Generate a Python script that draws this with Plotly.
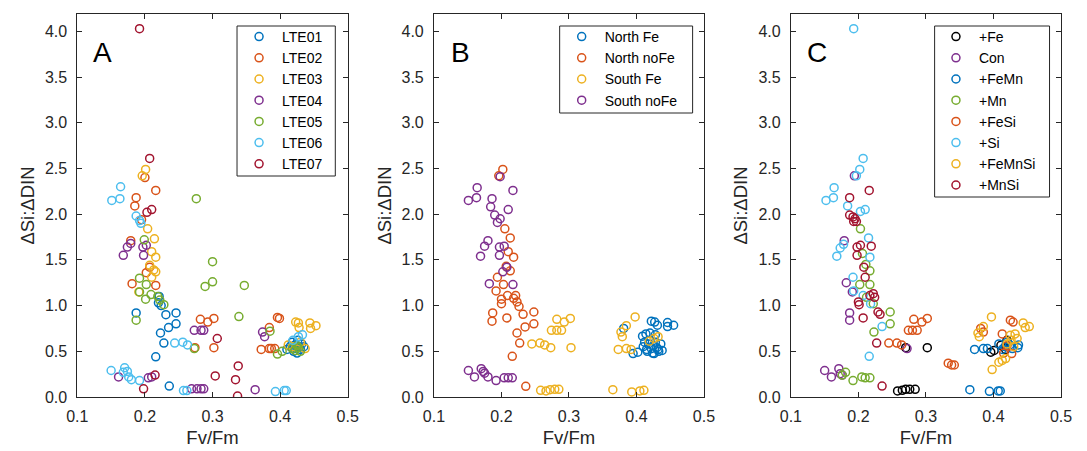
import plotly.graph_objects as go

# ---------------- Panel A : by lake station ----------------
a_names = ["LTE01", "LTE02", "LTE03", "LTE04", "LTE05", "LTE06", "LTE07"]
a_colors = ["#0072BD", "#D95319", "#EDB120", "#7E2F8E", "#77AC30", "#4DBEEE", "#A2142F"]

a_lte01_x = [0.221, 0.220, 0.224, 0.187, 0.231, 0.246, 0.235, 0.246, 0.223, 0.228, 0.216, 0.236,
             0.410, 0.415, 0.418, 0.420, 0.422, 0.425, 0.428, 0.430, 0.432, 0.435, 0.420, 0.426]
a_lte01_y = [1.10, 1.03, 1.00, 0.92, 0.90, 0.92, 0.76, 0.80, 0.70, 0.59, 0.44, 0.12,
             0.52, 0.55, 0.60, 0.50, 0.57, 0.48, 0.55, 0.52, 0.58, 0.55, 0.53, 0.62]
a_lte02_x = [0.216, 0.187, 0.185, 0.179, 0.202, 0.207, 0.181, 0.216, 0.282, 0.302, 0.293, 0.274,
             0.302, 0.372, 0.384, 0.392, 0.384, 0.396, 0.399, 0.387, 0.195, 0.200]
a_lte02_y = [2.26, 2.18, 2.09, 1.71, 1.36, 1.42, 1.24, 1.22, 0.85, 0.86, 0.82, 0.54,
             0.54, 0.52, 0.53, 0.53, 0.76, 0.87, 0.86, 0.53, 1.94, 2.40]
a_lte03_x = [0.201, 0.196, 0.204, 0.214, 0.210, 0.216, 0.207, 0.213, 0.216, 0.210, 0.191,
             0.423, 0.427, 0.428, 0.444, 0.453, 0.445, 0.412, 0.437, 0.418, 0.430]
a_lte03_y = [2.49, 2.42, 1.84, 1.73, 1.59, 1.53, 1.44, 1.39, 1.37, 1.31, 1.15,
             0.82, 0.81, 0.76, 0.81, 0.78, 0.75, 0.57, 0.53, 0.55, 0.60]
a_lte04_x = [0.179, 0.174, 0.168, 0.197, 0.202, 0.198, 0.273, 0.283, 0.287, 0.374, 0.377,
             0.161, 0.205, 0.210, 0.269, 0.277, 0.283, 0.287, 0.363]
a_lte04_y = [1.68, 1.64, 1.55, 1.64, 1.66, 1.55, 0.73, 0.73, 0.73, 0.71, 0.66,
             0.22, 0.21, 0.22, 0.09, 0.09, 0.09, 0.09, 0.08]
a_lte05_x = [0.276, 0.300, 0.300, 0.289, 0.347, 0.199, 0.192, 0.202, 0.192, 0.201, 0.209, 0.219,
             0.222, 0.228, 0.187, 0.339, 0.273, 0.385, 0.396, 0.403, 0.422, 0.427, 0.418, 0.430, 0.425]
a_lte05_y = [2.17, 1.48, 1.26, 1.21, 1.22, 1.72, 1.30, 1.23, 1.15, 1.07, 1.12, 1.10,
             1.06, 1.01, 0.84, 0.88, 0.53, 0.72, 0.47, 0.50, 0.51, 0.54, 0.53, 0.50, 0.56]
a_lte06_x = [0.164, 0.151, 0.163, 0.187, 0.192, 0.194, 0.244, 0.256, 0.263, 0.150, 0.170, 0.174,
             0.176, 0.180, 0.192, 0.168, 0.257, 0.262, 0.393, 0.406, 0.409, 0.419, 0.427, 0.433]
a_lte06_y = [2.30, 2.15, 2.17, 1.98, 1.93, 1.90, 0.59, 0.60, 0.57, 0.29, 0.32, 0.28,
             0.22, 0.19, 0.18, 0.27, 0.07, 0.07, 0.06, 0.07, 0.07, 0.62, 0.66, 0.68]
a_lte07_x = [0.192, 0.207, 0.203, 0.210, 0.215, 0.198, 0.307, 0.304, 0.338, 0.334, 0.337]
a_lte07_y = [4.03, 2.61, 2.02, 2.05, 0.24, 0.09, 0.64, 0.23, 0.34, 0.19, 0.01]

# ---------------- Panel B : by site / Fe ----------------
b_names = ["North Fe", "North noFe", "South Fe", "South noFe"]
b_colors = ["#0072BD", "#D95319", "#EDB120", "#7E2F8E"]

b_nfe_x = [0.381, 0.422, 0.427, 0.446, 0.455, 0.446, 0.431, 0.414, 0.409, 0.420, 0.428,
           0.395, 0.402, 0.426, 0.438, 0.415, 0.410, 0.418, 0.422, 0.425, 0.430, 0.433, 0.436,
           0.412, 0.420, 0.428, 0.416, 0.424, 0.432]
b_nfe_y = [0.75, 0.83, 0.82, 0.815, 0.785, 0.77, 0.785, 0.69, 0.665, 0.70, 0.68,
           0.475, 0.49, 0.475, 0.51, 0.52, 0.55, 0.58, 0.53, 0.56, 0.54, 0.50, 0.58,
           0.60, 0.62, 0.60, 0.50, 0.48, 0.52]
b_nnofe_x = [0.202, 0.196, 0.205, 0.213, 0.210, 0.218, 0.207, 0.213, 0.194, 0.203, 0.192,
             0.200, 0.200, 0.209, 0.221, 0.223, 0.226, 0.232, 0.248, 0.187, 0.186, 0.208,
             0.248, 0.235, 0.223, 0.227, 0.216, 0.236, 0.218]
b_nnofe_y = [2.49, 2.42, 1.84, 1.74, 1.59, 1.53, 1.43, 1.38, 1.31, 1.23, 1.16,
             1.07, 1.02, 1.11, 1.11, 1.04, 0.99, 0.905, 0.93, 0.92, 0.83, 0.865,
             0.80, 0.766, 0.70, 0.59, 0.445, 0.117, 1.08]
b_sfe_x = [0.282, 0.293, 0.302, 0.274, 0.282, 0.289, 0.245, 0.257, 0.264, 0.273, 0.303,
           0.258, 0.266, 0.272, 0.279, 0.285, 0.365, 0.393, 0.405, 0.411,
           0.398, 0.385, 0.377, 0.379, 0.373, 0.385, 0.392, 0.419, 0.426, 0.432]
b_sfe_y = [0.85, 0.82, 0.86, 0.73, 0.73, 0.73, 0.58, 0.59, 0.57, 0.54, 0.54,
           0.073, 0.066, 0.08, 0.084, 0.084, 0.08, 0.055, 0.066, 0.073,
           0.876, 0.78, 0.71, 0.66, 0.52, 0.53, 0.52, 0.61, 0.64, 0.66]
b_snofe_x = [0.198, 0.164, 0.151, 0.163, 0.217, 0.210, 0.186, 0.184, 0.190, 0.198, 0.194,
             0.180, 0.175, 0.169, 0.197, 0.204, 0.197, 0.208, 0.202, 0.182, 0.217,
             0.151, 0.160, 0.170, 0.175, 0.180, 0.192, 0.204, 0.210, 0.216, 0.173]
b_snofe_y = [2.41, 2.29, 2.15, 2.18, 2.26, 2.05, 2.17, 2.08, 1.99, 1.95, 1.91,
             1.71, 1.65, 1.54, 1.64, 1.65, 1.55, 1.42, 1.37, 1.24, 1.23,
             0.29, 0.22, 0.31, 0.26, 0.22, 0.18, 0.21, 0.21, 0.21, 0.28]

# ---------------- Panel C : by treatment ----------------
c_names = ["+Fe", "Con", "+FeMn", "+Mn", "+FeSi", "+Si", "+FeMnSi", "+MnSi"]
c_colors = ["#000000", "#7E2F8E", "#0072BD", "#77AC30", "#D95319", "#4DBEEE", "#EDB120", "#A2142F"]

c_fe_x = [0.302, 0.270, 0.258, 0.265, 0.270, 0.276, 0.284, 0.396, 0.401, 0.411, 0.420, 0.418]
c_fe_y = [0.54, 0.54, 0.066, 0.073, 0.084, 0.084, 0.084, 0.49, 0.51, 0.565, 0.62, 0.52]
c_con_x = [0.194, 0.179, 0.182, 0.191, 0.187, 0.187, 0.272, 0.150, 0.160, 0.171, 0.173, 0.176]
c_con_y = [2.42, 1.71, 1.25, 1.15, 0.92, 0.84, 0.53, 0.29, 0.22, 0.31, 0.255, 0.24]
c_femn_x = [0.372, 0.385, 0.391, 0.408, 0.437, 0.436, 0.365, 0.394, 0.407, 0.410,
            0.417, 0.424, 0.413, 0.428, 0.420]
c_femn_y = [0.52, 0.53, 0.53, 0.58, 0.57, 0.54, 0.08, 0.062, 0.066, 0.066,
            0.55, 0.57, 0.52, 0.53, 0.60]
c_mn_x = [0.203, 0.206, 0.211, 0.217, 0.202, 0.217, 0.212, 0.222, 0.247, 0.247, 0.223,
          0.181, 0.192, 0.205, 0.210, 0.217, 0.176]
c_mn_y = [1.84, 1.57, 1.45, 1.38, 1.23, 1.23, 1.09, 1.02, 0.93, 0.80, 0.71,
          0.27, 0.18, 0.22, 0.21, 0.21, 0.24]
c_fesi_x = [0.274, 0.282, 0.294, 0.302, 0.280, 0.287, 0.245, 0.257, 0.264, 0.333, 0.338, 0.342,
            0.385, 0.381, 0.425, 0.429, 0.413, 0.415, 0.427, 0.420]
c_fesi_y = [0.73, 0.85, 0.82, 0.86, 0.73, 0.73, 0.59, 0.59, 0.57, 0.37, 0.35, 0.35,
            0.71, 0.75, 0.84, 0.82, 0.69, 0.48, 0.475, 0.56]
c_si_x = [0.193, 0.207, 0.202, 0.197, 0.164, 0.152, 0.163, 0.184, 0.203, 0.210, 0.215, 0.217,
          0.178, 0.173, 0.168, 0.192, 0.193, 0.207, 0.218, 0.235, 0.216]
c_si_y = [4.03, 2.61, 2.49, 2.42, 2.29, 2.15, 2.18, 2.09, 2.03, 2.05, 1.74, 1.53,
          1.67, 1.63, 1.54, 1.31, 1.16, 1.11, 1.02, 0.77, 0.445]
c_femnsi_x = [0.397, 0.377, 0.379, 0.385, 0.398, 0.408, 0.413, 0.418, 0.444, 0.453, 0.447,
              0.425, 0.432, 0.435, 0.420, 0.430, 0.426]
c_femnsi_y = [0.876, 0.70, 0.66, 0.77, 0.30, 0.38, 0.40, 0.42, 0.81, 0.77, 0.76,
              0.675, 0.69, 0.64, 0.58, 0.55, 0.62]
c_mnsi_x = [0.187, 0.216, 0.187, 0.192, 0.195, 0.197, 0.193, 0.198, 0.203, 0.219, 0.198,
            0.208, 0.210, 0.217, 0.222, 0.224, 0.229, 0.232, 0.200, 0.201, 0.207, 0.227, 0.235]
c_mnsi_y = [2.18, 2.26, 1.99, 1.97, 1.95, 1.92, 1.92, 1.64, 1.66, 1.65, 1.55,
            1.42, 1.31, 1.11, 1.13, 1.09, 0.93, 0.905, 1.04, 1.01, 0.865, 0.59, 0.12]

x_ticks = [0.1, 0.2, 0.3, 0.4, 0.5]
y_ticks = [0.0, 0.5, 1.0, 1.5, 2.0, 2.5, 3.0, 3.5, 4.0]
panel_letters = ["A", "B", "C"]

panels = [
    (list(zip(a_names, a_colors,
              [a_lte01_x, a_lte02_x, a_lte03_x, a_lte04_x, a_lte05_x, a_lte06_x, a_lte07_x],
              [a_lte01_y, a_lte02_y, a_lte03_y, a_lte04_y, a_lte05_y, a_lte06_y, a_lte07_y]))),
    (list(zip(b_names, b_colors,
              [b_nfe_x, b_nnofe_x, b_sfe_x, b_snofe_x],
              [b_nfe_y, b_nnofe_y, b_sfe_y, b_snofe_y]))),
    (list(zip(c_names, c_colors,
              [c_fe_x, c_con_x, c_femn_x, c_mn_x, c_fesi_x, c_si_x, c_femnsi_x, c_mnsi_x],
              [c_fe_y, c_con_y, c_femn_y, c_mn_y, c_fesi_y, c_si_y, c_femnsi_y, c_mnsi_y]))),
]

W, H = 1087, 451
MT, MB = 14, 54
PH = H - MT - MB
domains = [(67.7 / W, 343.7 / W), (431.7 / W, 707.3 / W), (796.0 / W, 1071.7 / W)]
# legend boxes in pixels (left, top, right, bottom)
legend_boxes = [(230.7, 26, 331.0, 176), (560.0, 26, 695.7, 113), (942.7, 26, 1060.0, 197)]
symbol_x = [256.7, 586.0, 968.0]
axis_col = "#262626"
font_family = "Liberation Sans, Arial, Helvetica, sans-serif"


def px_x(p):
    return p / W


def px_y(p):
    return (H - MB - p) / PH


fig = go.Figure()
legend_ids = ["legend", "legend2", "legend3"]
for i, series in enumerate(panels):
    ax = "" if i == 0 else str(i + 1)
    for name, col, xs, ys in series:
        fig.add_trace(go.Scatter(
            x=xs, y=ys, mode="markers", name=name,
            xaxis="x" + ax, yaxis="y" + ax, legend=legend_ids[i],
            marker=dict(symbol="circle-open", size=8, color=col, line=dict(width=1.5, color=col)),
        ))

layout = dict(
    width=W, height=H,
    margin=dict(l=0, r=0, t=MT, b=MB),
    paper_bgcolor="white", plot_bgcolor="white",
    font=dict(family=font_family, size=16, color=axis_col),
    showlegend=True,
)
shapes = []
for i in range(3):
    ax = "" if i == 0 else str(i + 1)
    layout["xaxis" + ax] = dict(
        domain=list(domains[i]), range=[0.1, 0.5], tickvals=x_ticks,
        ticktext=[f"{v:.1f}" for v in x_ticks],
        ticks="inside", ticklen=5, tickcolor=axis_col, showline=True, linecolor=axis_col,
        linewidth=1, mirror="ticks", showgrid=False, zeroline=False,
        anchor="y" + ax, tickfont=dict(size=16), ticklabelstandoff=5,
        title=dict(text="Fv/Fm", font=dict(size=18.5), standoff=6),
    )
    layout["yaxis" + ax] = dict(
        domain=[0, 1], range=[0, 4.19], tickvals=y_ticks,
        ticktext=[f"{v:.1f}" for v in y_ticks],
        ticks="inside", ticklen=5, tickcolor=axis_col, showline=True, linecolor=axis_col,
        linewidth=1, mirror="ticks", showgrid=False, zeroline=False,
        anchor="x" + ax, tickfont=dict(size=16), ticklabelstandoff=6,
        title=dict(text="ΔSi:ΔDIN", font=dict(size=18.5), standoff=5),
    )
    l, t, r, b = legend_boxes[i]
    shapes.append(dict(type="rect", xref="paper", yref="paper",
                       x0=px_x(l), x1=px_x(r), y0=px_y(b), y1=px_y(t),
                       line=dict(color=axis_col, width=1), fillcolor="white", layer="above"))
    layout[legend_ids[i]] = dict(
        x=px_x(symbol_x[i] - 27), y=px_y(21), xanchor="left", yanchor="top",
        bgcolor="rgba(0,0,0,0)", borderwidth=0,
        font=dict(size=14, color="#000000"), itemwidth=36, tracegroupgap=0,
    )
layout["shapes"] = shapes
fig.update_layout(**layout)

letter_x = [93.5, 458.5, 823.0]
for i, letter in enumerate(panel_letters):
    fig.add_annotation(
        text=letter, xref="paper", yref="paper",
        x=px_x(letter_x[i]), y=px_y(52.5),
        xanchor="center", yanchor="middle", showarrow=False,
        font=dict(size=28, color="#000000", family=font_family),
    )

fig.write_html("out.html")
